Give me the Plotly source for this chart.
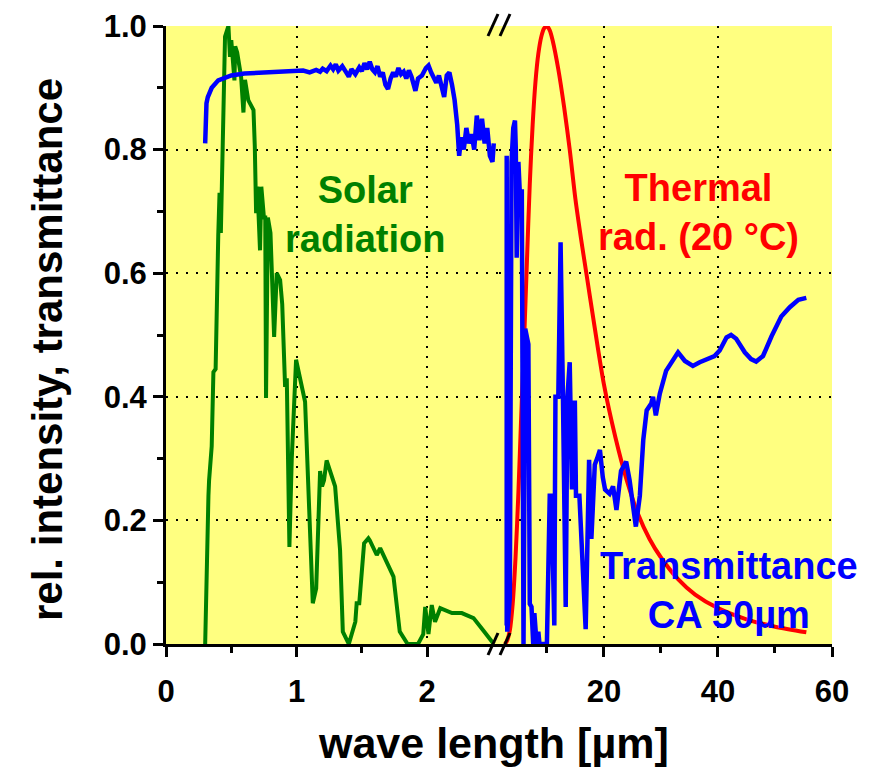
import plotly.graph_objects as go

# ---------------- data ----------------
solar_wl = [0.30, 0.31, 0.325, 0.33, 0.35, 0.363, 0.38, 0.40, 0.41, 0.42, 0.452, 0.478, 0.49, 0.50,
            0.524, 0.53, 0.545, 0.575, 0.593, 0.605, 0.63, 0.67, 0.68, 0.69, 0.70, 0.72, 0.73,
            0.75, 0.76, 0.766, 0.78, 0.80, 0.815, 0.828, 0.848, 0.874, 0.89, 0.912, 0.925,
            0.945, 0.963, 0.996, 1.065, 1.124, 1.15, 1.18, 1.195, 1.21, 1.23, 1.295, 1.333,
            1.354, 1.40, 1.45, 1.46, 1.48, 1.517, 1.55, 1.56, 1.585, 1.614, 1.64, 1.678,
            1.742, 1.79, 1.85, 1.93, 1.97, 1.985, 2.01, 2.035, 2.06, 2.10, 2.19, 2.265,
            2.355, 2.43, 2.51]
solar_int = [0.0, 0.12, 0.24, 0.265, 0.32, 0.44, 0.445, 0.66, 0.73, 0.665, 0.983, 1.0, 0.95, 0.977,
             0.912, 0.967, 0.957, 0.918, 0.86, 0.913, 0.88, 0.864, 0.805, 0.697, 0.74, 0.637, 0.74,
             0.69, 0.69, 0.398, 0.69, 0.665, 0.562, 0.497, 0.60, 0.589, 0.55, 0.416, 0.43,
             0.157, 0.30, 0.46, 0.392, 0.066, 0.09, 0.28, 0.255, 0.265, 0.297, 0.255, 0.152,
             0.02, 0.0, 0.036, 0.066, 0.066, 0.163, 0.171, 0.168, 0.155, 0.144, 0.155, 0.139,
             0.109, 0.02, 0.0, 0.0, 0.016, 0.06, 0.016, 0.063, 0.036, 0.058, 0.05, 0.05,
             0.042, 0.022, 0.0]

trans_vis_wl = [0.30, 0.305, 0.31, 0.32, 0.35, 0.40, 0.45, 0.50, 0.60, 0.70, 0.80, 0.90, 1.00,
                1.05, 1.10, 1.15, 1.18, 1.20, 1.23, 1.26, 1.28, 1.30, 1.32, 1.35, 1.38, 1.40,
                1.42, 1.45, 1.48, 1.50, 1.52, 1.54, 1.56, 1.58, 1.60, 1.62, 1.64, 1.66, 1.68,
                1.70, 1.72, 1.74, 1.76, 1.78, 1.80, 1.82, 1.84, 1.86, 1.88, 1.90, 1.91, 1.93,
                1.96, 1.99, 2.01, 2.03, 2.05, 2.07, 2.09, 2.11, 2.13, 2.15, 2.17, 2.19, 2.21,
                2.23, 2.245, 2.26, 2.28, 2.30, 2.32, 2.34, 2.36, 2.38, 2.40, 2.42, 2.44, 2.46,
                2.48, 2.50, 2.51]
trans_vis = [0.81, 0.85, 0.875, 0.885, 0.90, 0.912, 0.917, 0.92, 0.923, 0.924, 0.925, 0.926, 0.926,
             0.928, 0.925, 0.929, 0.926, 0.931, 0.927, 0.936, 0.93, 0.938, 0.928, 0.935, 0.925, 0.918,
             0.93, 0.922, 0.933, 0.927, 0.94, 0.93, 0.942, 0.93, 0.925, 0.935, 0.918, 0.925, 0.905,
             0.898, 0.915, 0.925, 0.918, 0.932, 0.922, 0.926, 0.915, 0.928, 0.918, 0.90, 0.895, 0.915,
             0.92, 0.932, 0.936, 0.925, 0.918, 0.908, 0.92, 0.90, 0.885, 0.92, 0.925, 0.905, 0.88,
             0.84, 0.79, 0.82, 0.80, 0.835, 0.81, 0.825, 0.80, 0.855, 0.815, 0.85, 0.81, 0.835,
             0.79, 0.78, 0.81]

trans_ir_wl = [2.95, 2.95, 3.05, 3.5, 3.8, 4.1, 4.4, 4.55, 4.7, 5.0, 5.3, 5.6, 5.9, 6.2, 6.75, 7.0,
               7.3, 7.6, 7.8, 8.2, 8.5, 8.7, 9.5, 10.0, 10.5, 10.8, 11.3, 11.5, 12.0, 12.4, 12.8,
               13.3, 13.6, 14.0, 14.4, 14.9, 15.1, 15.7, 16.8, 17.4, 17.8, 18.4, 18.8, 19.3, 19.8,
               20.2, 21.0, 21.6, 22.2, 23.0, 23.9, 24.5, 25.6, 26.3, 26.9, 27.5, 28.3, 28.6, 29.1,
               29.8, 30.9, 31.8, 33.0, 34.2, 35.6, 36.8, 38.0, 39.4, 40.3, 41.5, 42.3, 43.2, 44.7,
               45.8, 46.7, 47.9, 49.4, 51.1, 52.6, 54.1, 55.5]
trans_ir = [0.03, 0.79, 0.02, 0.076, 0.78, 0.835, 0.847, 0.80, 0.625, 0.78, 0.72, 0.736, 0.0, 0.51,
            0.485, 0.065, 0.06, 0.0, 0.05, 0.0, 0.02, 0.0, 0.0, 0.0, 0.24, 0.24, 0.03, 0.40, 0.40,
            0.65, 0.41, 0.06, 0.40, 0.456, 0.25, 0.394, 0.24, 0.24, 0.024, 0.298, 0.17, 0.29, 0.30,
            0.314, 0.27, 0.25, 0.243, 0.255, 0.217, 0.28, 0.295, 0.265, 0.19, 0.24, 0.33, 0.378,
            0.389, 0.40, 0.37, 0.405, 0.442, 0.456, 0.472, 0.458, 0.45, 0.456, 0.461, 0.466, 0.475,
            0.496, 0.50, 0.494, 0.472, 0.461, 0.457, 0.466, 0.498, 0.53, 0.545, 0.557, 0.56]

thermal_wl = [2.65, 3.0, 3.5, 4.0, 4.5, 5.0, 5.5, 6.0, 6.5, 7.0, 7.5, 8.0, 8.5, 9.0, 9.5, 10.0,
              10.5, 11.0, 12.0, 13.0, 14.0, 15.0, 16.0, 17.0, 18.0, 20.0, 22.0, 24.0, 26.0,
              28.0, 30.0, 33.0, 36.0, 40.0, 45.0, 50.0, 55.5]
thermal_int = [0.0, 0.005, 0.022, 0.065, 0.14, 0.245, 0.37, 0.49, 0.62, 0.745, 0.84, 0.91, 0.955,
               0.982, 0.996, 1.0, 0.993, 0.977, 0.93, 0.87, 0.80, 0.72, 0.655, 0.595, 0.535,
               0.42, 0.335, 0.265, 0.21, 0.17, 0.14, 0.105, 0.08, 0.058, 0.04, 0.028, 0.019]

left_ticks = [0, 1, 2]
left_minor = [0.5, 1.5]
right_ticks = [20, 40, 60]
right_minor = [10, 30, 50]
y_ticks = [0.0, 0.2, 0.4, 0.6, 0.8, 1.0]
y_minor = [0.1, 0.3, 0.5, 0.7, 0.9]

# ---------------- styling ----------------
OFF = 8                       # page body margin of the html page
W, H = 874 - OFF, 767 - OFF
ML, MR, MT, MB = 166 - OFF, 42, 26 - OFF, 123
FONT = "Arial, 'Liberation Sans', sans-serif"
GREEN, BLUE, RED = "#008000", "#0000FF", "#FF0000"
BG = "#FFFF80"
LW = 4.5

fig = go.Figure()
fig.add_trace(go.Scatter(x=solar_wl, y=solar_int, xaxis="x", yaxis="y", mode="lines",
                         line=dict(color=GREEN, width=4), showlegend=False))
fig.add_trace(go.Scatter(x=trans_vis_wl, y=trans_vis, xaxis="x", yaxis="y", mode="lines",
                         line=dict(color=BLUE, width=LW), showlegend=False))
fig.add_trace(go.Scatter(x=thermal_wl, y=thermal_int, xaxis="x2", yaxis="y", mode="lines",
                         line=dict(color=RED, width=4, shape="spline", smoothing=0.8),
                         showlegend=False))
fig.add_trace(go.Scatter(x=trans_ir_wl, y=trans_ir, xaxis="x2", yaxis="y", mode="lines",
                         line=dict(color=BLUE, width=LW), showlegend=False))

tickfont = dict(family=FONT, size=31, color="black", weight="bold")
grid = dict(showgrid=True, gridcolor="black", gridwidth=2, griddash="2px,8px")
base = dict(showline=True, linecolor="black", linewidth=3, tickcolor="black", tickwidth=2.5,
            ticklen=10, zeroline=False, tickfont=tickfont, tickmode="array", automargin=False)
base_nolab = {k: v for k, v in base.items() if k != "tickfont"}


def minor(vals, side):
    return dict(tickmode="array", tickvals=vals, ticklen=6, tickwidth=2.5, tickcolor="black",
                ticks=side, showgrid=False)


LEFT_RANGE = [0, 2.55]
RIGHT_RANGE = [1.6, 60]

fig.update_layout(
    width=W, height=H,
    margin=dict(l=ML, r=MR, t=MT, b=MB, pad=0, autoexpand=False),
    paper_bgcolor="white", plot_bgcolor=BG,
    xaxis=dict(domain=[0, 0.5], range=LEFT_RANGE, anchor="y", tickvals=left_ticks,
               ticktext=[str(v) for v in left_ticks], ticks="outside", ticklabelstandoff=8,
               minor=minor(left_minor, "outside"), **grid, **base),
    xaxis2=dict(domain=[0.5, 1], range=RIGHT_RANGE, anchor="y", tickvals=right_ticks,
                ticktext=[str(v) for v in right_ticks], ticks="outside", ticklabelstandoff=8,
                minor=minor(right_minor, "outside"), **grid, **base),
    xaxis3=dict(overlaying="x", side="top", anchor="y", range=LEFT_RANGE, tickvals=left_ticks,
                ticks="inside", showticklabels=False, showgrid=False,
                minor=minor(left_minor, "inside"), **base_nolab),
    xaxis4=dict(overlaying="x2", side="top", anchor="y", range=RIGHT_RANGE, tickvals=right_ticks,
                ticks="inside", showticklabels=False, showgrid=False,
                minor=minor(right_minor, "inside"), **base_nolab),
    yaxis=dict(domain=[0, 1], range=[0, 1], anchor="x", side="left", tickvals=y_ticks,
               ticktext=[f"{v:.1f}" for v in y_ticks], ticks="outside",
               minor=minor(y_minor, "outside"), **grid, **base),
    yaxis2=dict(overlaying="y", side="right", anchor="x2", range=[0, 1], tickvals=y_ticks,
                ticks="inside", showticklabels=False, showgrid=False,
                minor=minor(y_minor, "inside"), **base_nolab),
)


def px_to_paper(px, py):
    """screen pixel (of the 874x767 window) -> paper fraction of the plot area"""
    return ((px - OFF) - ML) / (W - ML - MR), (H - MB - (py - OFF)) / (H - MT - MB)


# axis-break marks "//" at top and bottom
for ybase in (25, 644):
    for xc in (493, 505):
        x0, y0 = px_to_paper(xc - 5, ybase + 11)
        x1, y1 = px_to_paper(xc + 5, ybase - 11)
        fig.add_shape(type="line", xref="paper", yref="paper", x0=x0, y0=y0, x1=x1, y1=y1,
                      line=dict(color="black", width=3))

ann_font = dict(family=FONT, size=38, weight="bold")
labels = [
    ("Solar<br>radiation", 365, 214, GREEN),
    ("Thermal<br>rad. (20 °C)", 698, 212, RED),
    ("Transmittance<br>CA 50µm", 729, 590, BLUE),
]
for txt, px, py, col in labels:
    ax, ay = px_to_paper(px, py)
    fig.add_annotation(text=txt, x=ax, y=ay, xref="paper", yref="paper", showarrow=False,
                       xanchor="center", yanchor="middle", align="center",
                       font=dict(color=col, **ann_font))

# axis titles
tx, ty = px_to_paper(493, 743)
fig.add_annotation(text="wave length [µm]", x=tx, y=ty, xref="paper", yref="paper",
                   showarrow=False, xanchor="center", yanchor="middle",
                   font=dict(family=FONT, size=43, color="black", weight="bold"))
tx, ty = px_to_paper(47, 350)
fig.add_annotation(text="rel. intensity, transmittance", x=tx, y=ty, xref="paper", yref="paper",
                   showarrow=False, xanchor="center", yanchor="middle", textangle=-90,
                   font=dict(family=FONT, size=42, color="black", weight="bold"))

fig.write_html("out.html")
